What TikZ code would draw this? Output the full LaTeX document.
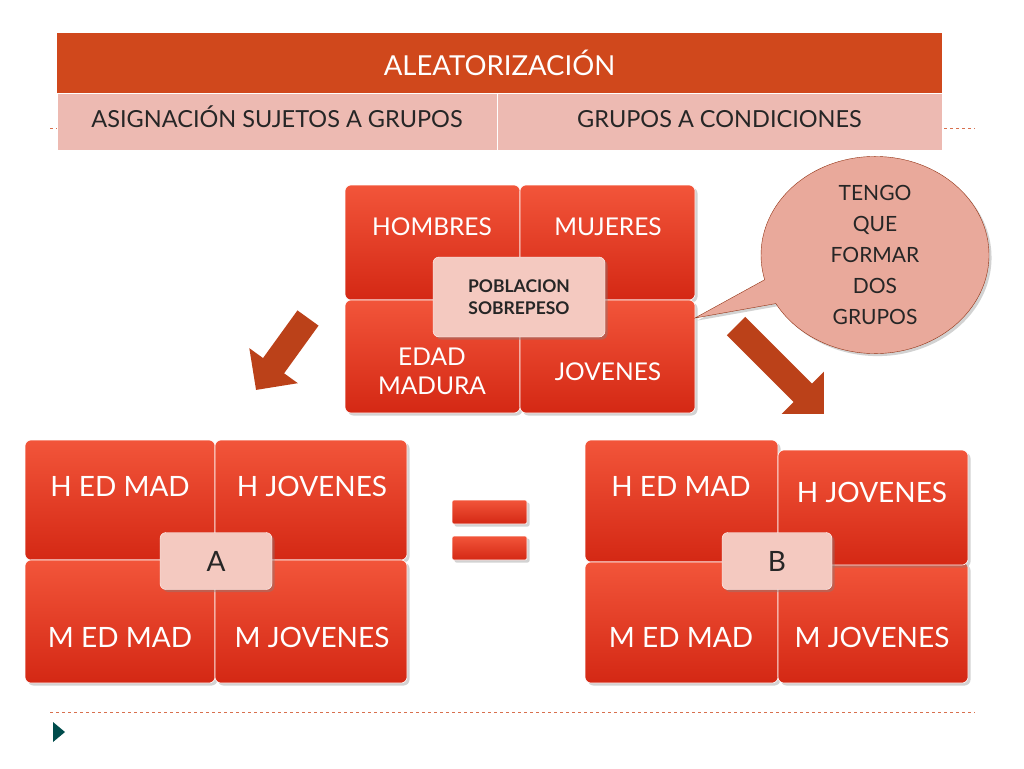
\documentclass[tikz,border=0pt]{standalone}
\usepackage{fontspec}
\setmainfont{Lato}
\usetikzlibrary{shapes.callouts,shadows,arrows.meta}
\definecolor{hdr}{HTML}{D0481C}
\definecolor{pinkc}{HTML}{EDBAB2}
\definecolor{tileA}{HTML}{F2553A}
\definecolor{tileB}{HTML}{D42814}
\definecolor{lab}{HTML}{F4C9C0}
\definecolor{dashcol}{HTML}{D8704E}
\begin{document}
\begin{tikzpicture}[x=1pt,y=-1pt,
 tile/.style={draw=white,line width=0.6pt,rounded corners=6pt,top color=tileA,bottom color=tileB,drop shadow={opacity=0.35}},
 ttext/.style={text=white,font=\fontsize{28}{30}\selectfont,align=center},
 stext/.style={text=white,font=\fontsize{24.5}{26}\selectfont,align=center},
 labbox/.style={draw=white,rounded corners=6pt,fill=lab,drop shadow={opacity=0.4},font=\fontsize{28}{30}\selectfont,text=black!85},
 rowcell/.style={fill=pinkc,draw=white,minimum height=57,text=black!85,font=\fontsize{23.5}{26}\selectfont,inner sep=0,text height=17pt,text depth=5pt},
 bigarrow/.style={-{Triangle[length=30pt,width=58pt]},line width=26pt,draw=hdr!90!black}]
\useasboundingbox (0,0) rectangle (1024,768);
\fill[white] (0,0) rectangle (1024,768);
% dashed lines
\draw[dashcol,dashed,line width=0.8pt] (50,128) -- (975,128);
\draw[dashcol,dashed,line width=0.8pt] (50,712) -- (975,712);
\fill[teal!60!black] (53,722) -- (65,732) -- (53,742) -- cycle;
% header
\node[fill=hdr,minimum width=885,minimum height=60,text=white,font=\fontsize{27.5}{30}\selectfont,inner sep=0] (hdr) at (499.5,63) {ALEATORIZACIÓN};
\node[rowcell,minimum width=440] (c1) at (277,121.5) {ASIGNACIÓN SUJETOS A GRUPOS};
\node[rowcell,minimum width=445] (c2) at (719.5,121.5) {GRUPOS A CONDICIONES};
% top grid
\draw[tile] (345,185) rectangle (520,300);
\draw[tile] (520,185) rectangle (695,300);
\draw[tile] (345,300) rectangle (520,413);
\draw[tile] (520,300) rectangle (695,413);
\node[stext] (hom) at (432,227) {HOMBRES};
\node[stext] (muj) at (608,227) {MUJERES};
\node[stext,font=\fontsize{24.5}{29}\selectfont] (eda) at (432,371) {EDAD\\MADURA};
\node[stext] (jov) at (608,372) {JOVENES};
\node[labbox,minimum width=172,minimum height=80,font=\bfseries\fontsize{17.5}{22}\selectfont,align=center] (pob) at (519,297) {POBLACION\\SOBREPESO};
% callout
\node[ellipse callout,draw=hdr!70!black,fill=pinkc!85!hdr,minimum width=228,minimum height=172,callout absolute pointer={(695,318)},drop shadow={opacity=0.35},font=\fontsize{21}{31}\selectfont,align=center,text=black!85,inner sep=0] (call) at (875,255) {TENGO\\QUE\\FORMAR\\DOS\\GRUPOS};
% arrows
\coordinate (la1) at (308,318); \coordinate (la2) at (256,390);
\coordinate (ra1) at (736,326); \coordinate (ra2) at (824,414);
\draw[bigarrow] (la1) -- (la2);
\draw[bigarrow] (ra1) -- (ra2);
% left grid
\draw[tile] (25,440) rectangle (215,560);
\draw[tile] (215,440) rectangle (407,560);
\draw[tile] (25,560) rectangle (215,683);
\draw[tile] (215,560) rectangle (407,683);
\node[ttext] (l1) at (120,486) {H ED MAD};
\node[ttext] (l2) at (312,486) {H JOVENES};
\node[ttext] (l3) at (120,637) {M ED MAD};
\node[ttext] (l4) at (312,637) {M JOVENES};
\node[labbox,minimum width=112,minimum height=57] (A) at (216,561) {A};
% equals
\draw[tile,rounded corners=2pt] (452,500) rectangle (527,524);
\draw[tile,rounded corners=2pt] (452,536) rectangle (527,560);
% right grid
\draw[tile] (585,440) rectangle (778,562);
\draw[tile] (585,562) rectangle (778,683);
\draw[tile] (778,562) rectangle (968,683);
\draw[tile] (778,450) rectangle (968,565);
\node[ttext] (r1) at (681,486) {H ED MAD};
\node[ttext] (r2) at (872,492) {H JOVENES};
\node[ttext] (r3) at (681,637) {M ED MAD};
\node[ttext] (r4) at (872,637) {M JOVENES};
\node[labbox,minimum width=110,minimum height=57] (B) at (777,561) {B};
\end{tikzpicture}
\end{document}
